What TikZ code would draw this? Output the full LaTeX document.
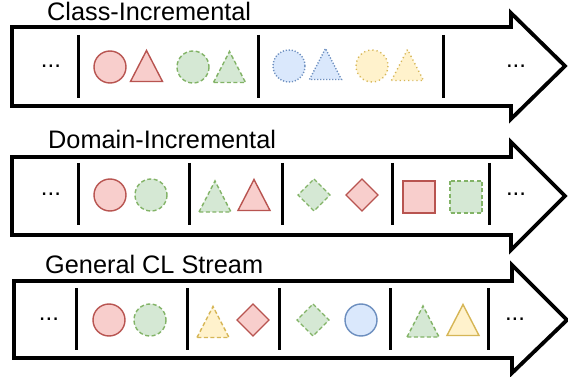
\documentclass[tikz,border=0pt]{standalone}
\usepackage{fontspec}
\setmainfont{Liberation Sans}
\definecolor{rfill}{HTML}{F8CECC}\definecolor{rline}{HTML}{B85450}
\definecolor{gfill}{HTML}{D5E8D4}\definecolor{gline}{HTML}{82B366}
\definecolor{bfill}{HTML}{DAE8FC}\definecolor{bline}{HTML}{6C8EBF}
\definecolor{yfill}{HTML}{FFF2CC}\definecolor{yline}{HTML}{D6B656}
\begin{document}
\begin{tikzpicture}[x=1pt,y=-1pt,
  arrowbody/.style={draw=black,line width=3.8pt,miter limit=10,fill=white},
  divider/.style={draw=black,line width=3pt},
  title/.style={font=\fontsize{25.3}{25}\selectfont,anchor=base west,inner sep=0pt},
  dots/.style={font=\fontsize{24}{24}\selectfont,inner sep=0pt},
  red/.style={draw=rline,fill=rfill,line width=1.4pt},
  green/.style={draw=gline,fill=gfill,line width=1.4pt,dash pattern=on 4pt off 2.5pt},
  blue/.style={draw=bline,fill=bfill,line width=1.4pt},
  yellow/.style={draw=yline,fill=yfill,line width=1.4pt},
  bluedot/.style={draw=bline,fill=bfill,line width=1.4pt,dash pattern=on 1.2pt off 1.8pt},
  yellowdot/.style={draw=yline,fill=yfill,line width=1.4pt,dash pattern=on 1.2pt off 3pt},
  yellowdash/.style={draw=yline,fill=yfill,line width=1.4pt,dash pattern=on 4pt off 2.5pt},
  tri/.pic={\path[pic actions] (-16,15.5) -- (0,-15.5) -- (16,15.5) -- cycle;},
  circ/.pic={\path[pic actions] (0,0) circle[radius=16];},
  dia/.pic={\path[pic actions] (0,-16) -- (16,0) -- (0,16) -- (-16,0) -- cycle;},
  sq/.pic={\path[pic actions] (-16,-16) rectangle (16,16);}
]
\useasboundingbox (0,0) rectangle (568,377);
% ---------- Row 1 ----------
\node[title] (t1) at (47,21) {Class-Incremental};
\path[arrowbody] (12,27) -- (511,27) -- (511,13) -- (565,66) -- (511,119) -- (511,106) -- (12,106) -- cycle;
\node[dots] (d1l) at (51,66) {...};
\node[dots] (d1r) at (516,66) {...};
\coordinate (a1) at (78,35); \coordinate (b1) at (78,98);
\coordinate (a2) at (258,35); \coordinate (b2) at (258,98);
\coordinate (a3) at (443,35); \coordinate (b3) at (443,98);
\draw[divider] (a1) -- (b1); \draw[divider] (a2) -- (b2); \draw[divider] (a3) -- (b3);
\pic[red] at (110,67) {circ};
\pic[red] at (146.5,66) {tri};
\pic[green] at (193,67) {circ};
\pic[green] at (229.5,67) {tri};
\pic[bluedot] at (289,66) {circ};
\pic[bluedot] at (325.5,64) {tri};
\pic[yellowdot] at (372,66) {circ};
\pic[yellowdot] at (407.5,65) {tri};
% ---------- Row 2 ----------
\node[title] (t2) at (48,149) {Domain-Incremental};
\path[arrowbody] (12,157) -- (511,157) -- (511,142) -- (565,196) -- (511,250) -- (511,235) -- (12,235) -- cycle;
\node[dots] (d2l) at (51,194) {...};
\node[dots] (d2r) at (516,194) {...};
\foreach \x [count=\i] in {78,189,282,392,489}{
  \coordinate (p\i) at (\x,163); \coordinate (q\i) at (\x,225);
  \draw[divider] (p\i) -- (q\i);}
\pic[red] at (110,195) {circ};
\pic[green] at (151,195) {circ};
\pic[green] at (215,196.5) {tri};
\pic[red] at (254,195) {tri};
\pic[green] at (314,195) {dia};
\pic[red] at (362,195) {dia};
\pic[red] at (419,197) {sq};
\pic[green] at (466,197) {sq};
% ---------- Row 3 ----------
\node[title] (t3) at (45,273) {General CL Stream};
\path[arrowbody] (14,281) -- (512,281) -- (512,265) -- (567,320) -- (512,373) -- (512,358) -- (14,358) -- cycle;
\node[dots] (d3l) at (49,319) {...};
\node[dots] (d3r) at (515,319) {...};
\foreach \x [count=\i] in {76,187,279,390,488}{
  \coordinate (r\i) at (\x,288); \coordinate (s\i) at (\x,350);
  \draw[divider] (r\i) -- (s\i);}
\pic[red] at (109,320) {circ};
\pic[green] at (150,320) {circ};
\pic[yellowdash] at (213,322) {tri};
\pic[red] at (253,320) {dia};
\pic[green] at (313,320) {dia};
\pic[blue] at (361,320) {circ};
\pic[green] at (423,321.5) {tri};
\pic[yellow] at (463,320) {tri};
\end{tikzpicture}
\end{document}
